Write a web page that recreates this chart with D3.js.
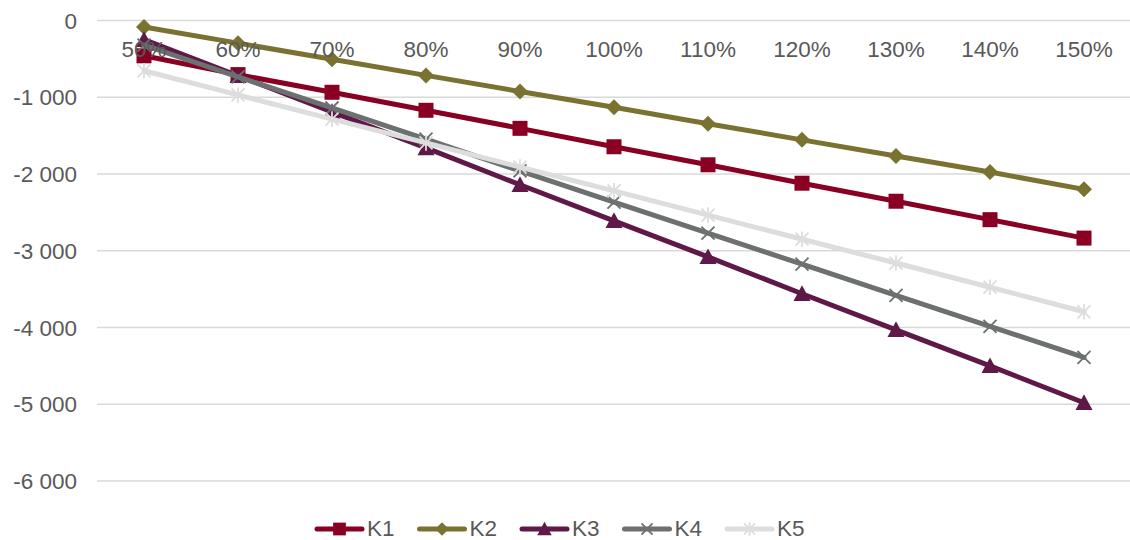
<!DOCTYPE html>
<html>
<head>
<meta charset="utf-8">
<script src="https://cdn.jsdelivr.net/npm/d3@7"></script>
<style>
  html, body { margin: 0; padding: 0; background: #fff; }
  svg { display: block; }
  text { font-family: "Liberation Sans", Arial, sans-serif; fill: #595959; }
</style>
</head>
<body>
<svg id="chart" width="1130" height="540"></svg>
<script>
// Categories (load level) and series values
const categories = ["50%", "60%", "70%", "80%", "90%", "100%", "110%", "120%", "130%", "140%", "150%"];
const k1 = [-460, -705, -935, -1170, -1405, -1645, -1880, -2120, -2355, -2595, -2835];
const k2 = [-85, -295, -505, -715, -925, -1130, -1345, -1555, -1765, -1975, -2200];
const k3 = [-250, -720, -1190, -1660, -2140, -2610, -3080, -3560, -4030, -4500, -4980];
const k4 = [-320, -735, -1140, -1545, -1960, -2365, -2770, -3175, -3580, -3985, -4390];
const k5 = [-655, -970, -1285, -1595, -1910, -2220, -2535, -2850, -3160, -3475, -3795];
const yTicks = [0, -1000, -2000, -3000, -4000, -5000, -6000];
const seriesNames = ["K1", "K2", "K3", "K4", "K5"];

const series = [
  { name: seriesNames[0], values: k1, color: "#8a0022", marker: "square" },
  { name: seriesNames[1], values: k2, color: "#7a7230", marker: "diamond" },
  { name: seriesNames[2], values: k3, color: "#5f1948", marker: "triangle" },
  { name: seriesNames[3], values: k4, color: "#6d7070", marker: "x" },
  { name: seriesNames[4], values: k5, color: "#dcdddc", marker: "star" }
];

const svg = d3.select("#chart");

const x = d3.scaleBand().domain(categories).range([97, 1131]);
const y = d3.scaleLinear().domain([-6000, 0]).range([481, 20.5]);
const cx = c => x(c) + x.bandwidth() / 2;
const FONT = "22.5px";

// Horizontal gridlines
svg.append("g")
  .selectAll("line")
  .data(yTicks)
  .join("line")
  .attr("x1", 97).attr("x2", 1130)
  .attr("y1", d => y(d)).attr("y2", d => y(d))
  .attr("stroke", "#d9d9d9").attr("stroke-width", 1.3);

// Value axis labels with space as thousands separator
const fmt = v => d3.format(",")(v).replace(/,/g, " ").replace("−", "-");
svg.append("g")
  .selectAll("text")
  .data(yTicks)
  .join("text")
  .attr("x", 77).attr("y", d => y(d) + 8)
  .attr("text-anchor", "end")
  .style("font-size", FONT)
  .text(d => fmt(d));

// Marker shapes
function drawMarker(g, type, color, px, py, s) {
  s = s || 1;
  if (type === "square") {
    g.append("rect").attr("x", px - 7.5 * s).attr("y", py - 7.5 * s)
      .attr("width", 15 * s).attr("height", 15 * s).attr("fill", color);
  } else if (type === "diamond") {
    const r = 8 * s;
    g.append("path").attr("d", `M${px},${py - r}L${px + r},${py}L${px},${py + r}L${px - r},${py}Z`).attr("fill", color);
  } else if (type === "triangle") {
    const r = 8.5 * s;
    g.append("path").attr("d", `M${px},${py - r}L${px + r},${py + r * 0.85}L${px - r},${py + r * 0.85}Z`).attr("fill", color);
  } else if (type === "x") {
    const r = 6.5 * s;
    g.append("path").attr("d", `M${px - r},${py - r}L${px + r},${py + r}M${px - r},${py + r}L${px + r},${py - r}`)
      .attr("stroke", color).attr("stroke-width", 1.8).attr("fill", "none");
  } else if (type === "star") {
    const r = 6.5 * s;
    g.append("path").attr("d", `M${px - r},${py - r}L${px + r},${py + r}M${px - r},${py + r}L${px + r},${py - r}M${px},${py - r * 1.2}L${px},${py + r * 1.2}`)
      .attr("stroke", color).attr("stroke-width", 1.8).attr("fill", "none");
  }
}

const line = d3.line()
  .x((d, i) => cx(categories[i]))
  .y(d => y(d));

series.forEach(s => {
  const g = svg.append("g");
  g.append("path")
    .attr("d", line(s.values))
    .attr("fill", "none")
    .attr("stroke", s.color)
    .attr("stroke-width", 5)
    .attr("stroke-linejoin", "round")
    .attr("stroke-linecap", "round");
  s.values.forEach((v, i) => drawMarker(g, s.marker, s.color, cx(categories[i]), y(v)));
});

// Category labels (axis crosses at zero), drawn above the series
svg.append("g")
  .selectAll("text")
  .data(categories)
  .join("text")
  .attr("x", d => cx(d)).attr("y", 56.5)
  .attr("text-anchor", "middle")
  .style("font-size", FONT)
  .text(d => d);

// Legend
const legend = svg.append("g");
series.forEach((s, i) => {
  const lx = 317 + i * 102.5;
  const ly = 529;
  const g = legend.append("g");
  g.append("line").attr("x1", lx).attr("x2", lx + 45).attr("y1", ly).attr("y2", ly)
    .attr("stroke", s.color).attr("stroke-width", 5).attr("stroke-linecap", "round");
  drawMarker(g, s.marker, s.color, lx + 22.5, ly, 0.85);
  g.append("text").attr("x", lx + 50).attr("y", ly + 6.5)
    .style("font-size", FONT).text(s.name);
});
</script>
</body>
</html>
